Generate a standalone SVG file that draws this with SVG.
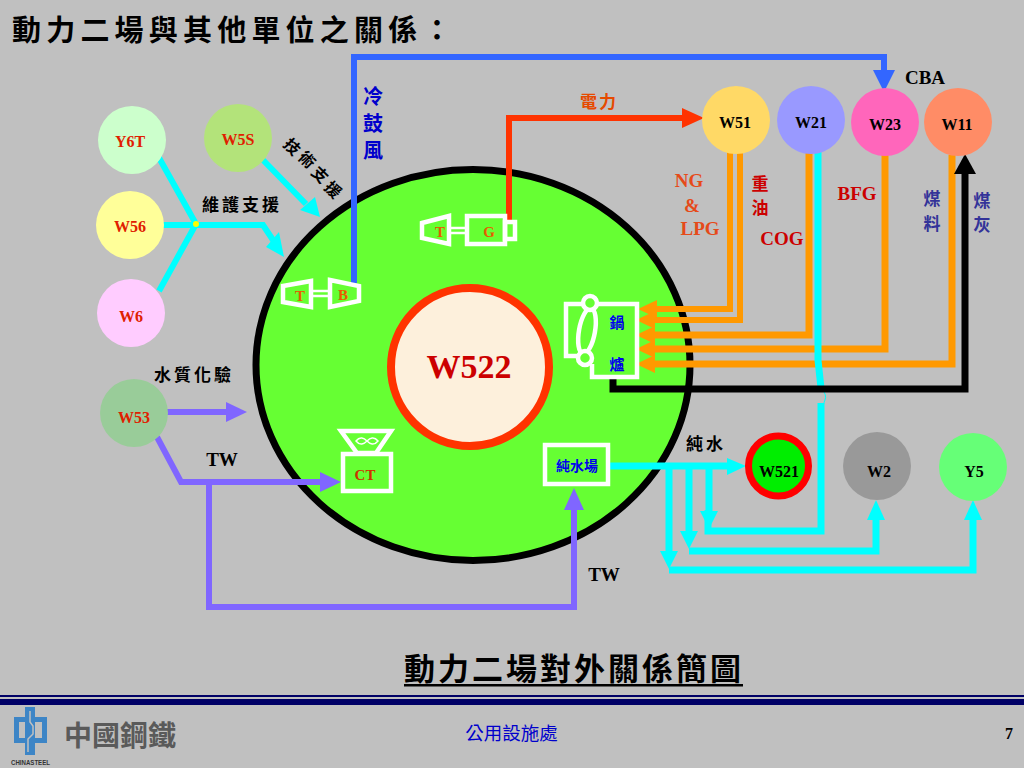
<svg xmlns="http://www.w3.org/2000/svg" width="1024" height="768" viewBox="0 0 1024 768">
<style>
.cjk{font-family:"Noto Sans CJK TC","Noto Sans CJK SC",sans-serif}
.tt{font-family:"Liberation Serif",serif;font-weight:bold}
.lab{font-family:"Liberation Serif",serif;font-weight:bold;font-size:16px;text-anchor:middle;fill:#000}
.w{fill:none;stroke:#fff;stroke-width:4.500}
.cy{stroke:#00ffff;stroke-width:7;fill:none}
.cy6{stroke:#00ffff;stroke-width:6;fill:none}
.pu{stroke:#8066ff;stroke-width:6;fill:none}
.or{stroke:#ff9900;stroke-width:6;fill:none}
.or2{stroke:#ff9900;stroke-width:7;fill:none}
</style>
<rect width="1024" height="768" fill="#c0c0c0"/>

<g id="title"><text class="cjk" x="12" y="41" font-size="29" font-weight="700" letter-spacing="5.200" fill="#000">動力二場與其他單位之關係：</text></g>

<g id="plant">
<ellipse cx="473" cy="365" rx="217" ry="195.500" fill="#66ff33" stroke="#000" stroke-width="7"/>
</g>

<g id="W522"><circle cx="470" cy="367" r="79" fill="#fdf0dc" stroke="#ff3300" stroke-width="8"/>
<text class="tt" x="469" y="378" font-size="34" text-anchor="middle" fill="#cc0000">W522</text></g>

<g id="connectors">
<!-- blue -->
<path d="M354 283V57H884V72" fill="none" stroke="#3366ff" stroke-width="6"/>
<path d="M873 70h22l-11 22z" fill="#3366ff"/>
<!-- red -->
<path d="M509 222V118H684" fill="none" stroke="#ff3300" stroke-width="6"/>
<path d="M682 108l22 10l-22 10z" fill="#ff3300"/>
<!-- maintain -->
<path class="cy6" d="M158 156L196 224M159 291L196 224M163 225H263L275 243"/>
<path d="M266 247l13-15l5 25z" fill="#00ffff"/>
<path class="cy6" d="M263 160L306 204"/>
<path d="M300 210l15-13l5 20z" fill="#00ffff"/>
<circle cx="196" cy="224" r="3" fill="#ffff00"/>
<!-- purple -->
<path class="pu" d="M166 412H228"/>
<path d="M226 402l21 10l-21 10z" fill="#8066ff"/>
<path class="pu" d="M157 437L181 482H322"/>
<path d="M320 472l21 10l-21 10z" fill="#8066ff"/>
<path class="pu" d="M209 482V607H574V508"/>
<path d="M564 510l10-22l10 22z" fill="#8066ff"/>
<!-- orange -->
<path class="or" d="M730 151V309H654"/>
<path class="or" d="M740 151V320H654"/>
<path class="or2" d="M809 152V335H654"/>
<path class="or2" d="M885 155V349H654"/>
<path class="or2" d="M952 155V364H654"/>
<path d="M657 300v18l-19-9zM655 311v18l-19-9zM655 326v18l-19-9zM655 340v18l-19-9zM655 355v18l-19-9z" fill="#ff9900"/>
<!-- cyan W21 -->
<path class="cy" d="M818 152V360L821 388"/>
<path d="M822 389q5 6 3 11t-1 4" fill="none" stroke="#00ffff" stroke-width="1"/>
<path class="cy" d="M821 403V531H708V510"/>
<path d="M700 511h18l-9 18z" fill="#00ffff"/>
<!-- black -->
<path d="M613 376V389H965V172" fill="none" stroke="#000" stroke-width="7"/>
<path d="M954 174l11-20l11 20z" fill="#000"/>
<!-- pure water -->
<path class="cy" d="M609 466H728"/>
<path d="M727 458l19 8l-19 9z" fill="#00ffff"/>
<path class="cy" d="M709 466V512"/>
<path class="cy" d="M689 466V531"/>
<path d="M680 531h18l-9 18z" fill="#00ffff"/>
<path class="cy" d="M689 551H876V518"/>
<path d="M867 520l9-20l9 20z" fill="#00ffff"/>
<path class="cy" d="M669 466V552"/>
<path d="M660 551h18l-9 18z" fill="#00ffff"/>
<path class="cy" d="M669 570H973V518"/>
<path d="M964 520l9-20l9 20z" fill="#00ffff"/>
</g>

<g id="Y6T"><circle cx="132" cy="140" r="34" fill="#ccffcc"/><text class="tt" x="130" y="147" font-size="16" text-anchor="middle" fill="#e02000">Y6T</text></g>
<g id="W5S"><circle cx="238" cy="138" r="34" fill="#b3e37a"/><text class="tt" x="238" y="145" font-size="16" text-anchor="middle" fill="#e02000">W5S</text></g>
<g id="W56"><circle cx="130" cy="225" r="34" fill="#ffff99"/><text class="tt" x="130" y="232" font-size="16" text-anchor="middle" fill="#e02000">W56</text></g>
<g id="W6"><circle cx="131" cy="313" r="34" fill="#ffccff"/><text class="tt" x="131" y="322" font-size="16" text-anchor="middle" fill="#e02000">W6</text></g>
<g id="W53"><circle cx="134" cy="413" r="34" fill="#99cc99"/><text class="tt" x="134" y="423" font-size="16" text-anchor="middle" fill="#e02000">W53</text></g>

<g id="W51"><circle cx="736" cy="120" r="34" fill="#ffd966"/><text class="lab" x="735" y="128">W51</text></g>
<g id="W21"><circle cx="811" cy="120" r="34" fill="#9999ff"/><text class="lab" x="811" y="128">W21</text></g>
<g id="W23"><circle cx="885" cy="122" r="34" fill="#ff66bb"/><text class="lab" x="885" y="130">W23</text></g>
<g id="W11"><circle cx="958" cy="122" r="34" fill="#ff8c66"/><text class="lab" x="957" y="130">W11</text></g>

<g id="W521"><circle cx="778.500" cy="466" r="30" fill="#00ee00" stroke="#ff0000" stroke-width="7"/><text class="lab" x="779" y="477">W521</text></g>
<g id="W2"><circle cx="877" cy="466" r="34" fill="#999999"/><text class="lab" x="879" y="477">W2</text></g>
<g id="Y5"><circle cx="973" cy="467" r="34" fill="#66ff77"/><text class="lab" x="974" y="477">Y5</text></g>

<g id="TB">
<path class="w" d="M283 286L311 281V307L283 302Z"/><path class="w" d="M330 280L359 286V301L330 307Z"/><path d="M311 291H330M311 296H330" stroke="#fff" stroke-width="2.500"/>
<text class="tt" x="300" y="301" font-size="15" text-anchor="middle" fill="#e65c00">T</text>
<text class="tt" x="343" y="300" font-size="15" text-anchor="middle" fill="#e65c00">B</text>
</g>
<g id="TG">
<path class="w" d="M422 223L449 216V244L422 238Z"/><path d="M449 228H467M449 233H467" stroke="#fff" stroke-width="2.500"/>
<rect class="w" x="467" y="216" width="38" height="28"/><rect class="w" x="505" y="222" width="10" height="17"/>
<text class="tt" x="440" y="237" font-size="15" text-anchor="middle" fill="#e65c00">T</text>
<text class="tt" x="489" y="237" font-size="15" text-anchor="middle" fill="#e65c00">G</text>
</g>
<g id="boiler">
<path class="w" d="M584 304H566V356H580M596 304H637V377H592V364"/>
<ellipse class="w" cx="587" cy="331" rx="8" ry="23" transform="rotate(10 587 331)"/>
<circle class="w" cx="590" cy="303" r="7" style="fill:#66ff33"/><circle class="w" cx="585" cy="358" r="7" style="fill:#66ff33"/>
<text class="cjk" x="617" y="328" font-size="15" font-weight="700" text-anchor="middle" fill="#0000ee">鍋</text>
<text class="cjk" x="617" y="370" font-size="15" font-weight="700" text-anchor="middle" fill="#0000ee">爐</text>
</g>
<g id="CT">
<path class="w" d="M341 431H391L376 453H357Z"/>
<path d="M356 441c4-5 8-3 11 0c3 3 7 5 11 0c-4-5-8-3-11 0c-3 3-7 5-11 0Z" fill="none" stroke="#fff" stroke-width="1.500"/>
<rect class="w" x="343" y="454" width="48" height="37"/>
<text class="tt" x="365" y="480" font-size="15" text-anchor="middle" fill="#cc3300">CT</text>
</g>
<g id="pure"><rect class="w" x="545" y="445" width="63" height="39"/>
<text class="cjk" x="577" y="471" font-size="14" font-weight="700" text-anchor="middle" fill="#0000ee">純水場</text></g>

<g id="labels">
<g class="cjk" font-weight="700" font-size="17" text-anchor="middle">
<text x="373" y="104" font-size="20" fill="#0000cc">冷</text><text x="373" y="131" font-size="20" fill="#0000cc">鼓</text><text x="373" y="158" font-size="20" fill="#0000cc">風</text>
<text x="599" y="108" fill="#e64a00" letter-spacing="2">電力</text>
<text x="242" y="211" fill="#000" font-size="17" letter-spacing="3">維護支援</text>
<text x="194" y="381" fill="#000" font-size="17" letter-spacing="3">水質化驗</text>
<text x="706" y="450" fill="#000" font-size="17" letter-spacing="3">純水</text>
<text x="760" y="190" fill="#cc0000">重</text><text x="760" y="214" fill="#cc0000">油</text>
<text x="932" y="205" fill="#333399">煤</text><text x="932" y="230" fill="#333399">料</text>
<text x="982" y="207" fill="#333399">煤</text><text x="982" y="231" fill="#333399">灰</text>
<text transform="translate(288 151) rotate(45)" fill="#000" font-size="16">技</text>
<text transform="translate(303 164) rotate(45)" fill="#000" font-size="16">術</text>
<text transform="translate(316 179) rotate(45)" fill="#000" font-size="16">支</text>
<text transform="translate(329 194) rotate(45)" fill="#000" font-size="16">援</text>
</g>
<g class="tt" font-size="19" text-anchor="middle">
<text x="689" y="187" fill="#e64a19">NG</text><text x="692" y="212" fill="#e64a19">&amp;</text><text x="700" y="235" fill="#e64a19">LPG</text>
<text x="782" y="245" fill="#cc0000">COG</text>
<text x="857" y="200" fill="#cc0000">BFG</text>
<text x="925" y="84" fill="#000">CBA</text>
<text x="222" y="466" fill="#000">TW</text>
<text x="604" y="581" fill="#000">TW</text>
</g>
</g>

<g id="caption"><text class="cjk" x="404" y="680" font-size="31" font-weight="700" letter-spacing="3" fill="#000">動力二場對外關係簡圖</text>
<rect x="404" y="684" width="339" height="2.500" fill="#000"/></g>

<g id="footer">
<rect x="0" y="695" width="1024" height="2" fill="#000066"/>
<rect x="0" y="699" width="1024" height="6" fill="#000066"/>
<path d="M25 707h10v48h-10zM14 717h11v5h-6v16h6v5H14zM35 717h12v26H35v-5h7v-16h-7z" fill="#3d85c6"/>
<path d="M30 711v11l3 4v8l-5 5v13" fill="none" stroke="#c0c0c0" stroke-width="1.500"/>
<text class="cjk" x="64" y="746" font-size="28" font-weight="700" fill="#5a5a5a">中國鋼鐵</text>
<text x="11" y="765" font-family="Liberation Sans,sans-serif" font-size="8" font-weight="700" fill="#333" textLength="39" lengthAdjust="spacingAndGlyphs">CHINASTEEL</text>
<text class="cjk" x="511.500" y="740" font-size="18.500" text-anchor="middle" fill="#0000cc">公用設施處</text>
<text class="tt" x="1009" y="739" font-size="16" text-anchor="middle" fill="#000">7</text>
</g>
</svg>
